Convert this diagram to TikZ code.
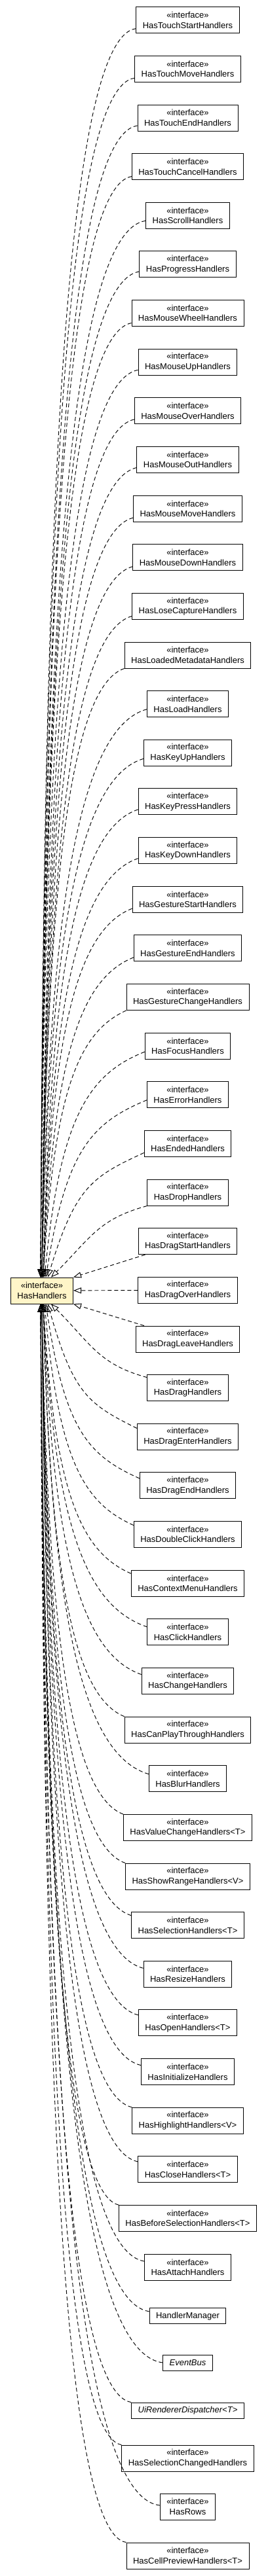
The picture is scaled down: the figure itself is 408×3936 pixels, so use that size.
\documentclass[tikz,border=0pt]{standalone}
\usepackage{fontspec}
\setmainfont{Liberation Sans}
\usetikzlibrary{arrows.meta,calc}

\definecolor{hubfill}{RGB}{255,245,200}
\newcommand{\ifacetag}{«interface»}

\tikzset{every picture/.style={line width=0.75pt}}
\tikzset{
  iface/.style={draw, line width=0.9pt, align=center, inner xsep=10pt, inner ysep=2pt,
    minimum height=40pt, font=\fontsize{13}{15.5}\selectfont},
  plainbox/.style={draw, line width=0.9pt, inner xsep=10pt, inner ysep=2pt,
    minimum height=24pt, font=\fontsize{13}{15.5}\selectfont},
  hub/.style={iface, fill=hubfill},
  realize/.style={line width=0.95pt, dash pattern=on 6pt off 4pt,
    -{Triangle[open, length=12pt, width=9pt]}}
}

\begin{document}
\begin{tikzpicture}[x=1pt,y=1pt,yscale=-1,xscale=1]
\useasboundingbox (0,0) rectangle (408,3936);

% Hub Node
\node [hub] (handlers) at (64,1972) {\ifacetag\\HasHandlers};

% Interface Nodes, upper column
\node [iface] (touchStart) at (286.5,30.7) {\ifacetag\\HasTouchStartHandlers};
\node [iface] (touchMove) at (286.5,105.3) {\ifacetag\\HasTouchMoveHandlers};
\node [iface] (touchEnd) at (286.5,180) {\ifacetag\\HasTouchEndHandlers};
\node [iface] (touchCancel) at (286.5,254.6) {\ifacetag\\HasTouchCancelHandlers};
\node [iface] (scroll) at (286.5,329.3) {\ifacetag\\HasScrollHandlers};
\node [iface] (progress) at (286.5,403.9) {\ifacetag\\HasProgressHandlers};
\node [iface] (mouseWheel) at (286.5,478.5) {\ifacetag\\HasMouseWheelHandlers};
\node [iface] (mouseUp) at (286.5,553.2) {\ifacetag\\HasMouseUpHandlers};
\node [iface] (mouseOver) at (286.5,627.8) {\ifacetag\\HasMouseOverHandlers};
\node [iface] (mouseOut) at (286.5,702.5) {\ifacetag\\HasMouseOutHandlers};
\node [iface] (mouseMove) at (286.5,777.1) {\ifacetag\\HasMouseMoveHandlers};
\node [iface] (mouseDown) at (286.5,851.7) {\ifacetag\\HasMouseDownHandlers};
\node [iface] (loseCapture) at (286.5,926.4) {\ifacetag\\HasLoseCaptureHandlers};
\node [iface] (loadedMeta) at (286.5,1001) {\ifacetag\\HasLoadedMetadataHandlers};
\node [iface] (load) at (286.5,1075.7) {\ifacetag\\HasLoadHandlers};
\node [iface] (keyUp) at (286.5,1150.3) {\ifacetag\\HasKeyUpHandlers};
\node [iface] (keyPress) at (286.5,1224.9) {\ifacetag\\HasKeyPressHandlers};
\node [iface] (keyDown) at (286.5,1299.6) {\ifacetag\\HasKeyDownHandlers};
\node [iface] (gestStart) at (286.5,1374.2) {\ifacetag\\HasGestureStartHandlers};
\node [iface] (gestEnd) at (286.5,1448.9) {\ifacetag\\HasGestureEndHandlers};
\node [iface] (gestChange) at (286.5,1523.5) {\ifacetag\\HasGestureChangeHandlers};
\node [iface] (focus) at (286.5,1598.1) {\ifacetag\\HasFocusHandlers};
\node [iface] (error) at (286.5,1672.8) {\ifacetag\\HasErrorHandlers};
\node [iface] (ended) at (286.5,1747.4) {\ifacetag\\HasEndedHandlers};
\node [iface] (drop) at (286.5,1822.1) {\ifacetag\\HasDropHandlers};
\node [iface] (dragStart) at (286.5,1896.7) {\ifacetag\\HasDragStartHandlers};
\node [iface] (dragOver) at (286.5,1971.3) {\ifacetag\\HasDragOverHandlers};
% Interface Nodes, lower column
\node [iface] (dragLeave) at (286.5,2046) {\ifacetag\\HasDragLeaveHandlers};
\node [iface] (drag) at (286.5,2120.6) {\ifacetag\\HasDragHandlers};
\node [iface] (dragEnter) at (286.5,2195.3) {\ifacetag\\HasDragEnterHandlers};
\node [iface] (dragEnd) at (286.5,2269.9) {\ifacetag\\HasDragEndHandlers};
\node [iface] (dblClick) at (286.5,2344.5) {\ifacetag\\HasDoubleClickHandlers};
\node [iface] (ctxMenu) at (286.5,2419.2) {\ifacetag\\HasContextMenuHandlers};
\node [iface] (click) at (286.5,2493.8) {\ifacetag\\HasClickHandlers};
\node [iface] (change) at (286.5,2568.5) {\ifacetag\\HasChangeHandlers};
\node [iface] (canPlay) at (286.5,2643.1) {\ifacetag\\HasCanPlayThroughHandlers};
\node [iface] (blur) at (286.5,2717.7) {\ifacetag\\HasBlurHandlers};
\node [iface] (valueChange) at (286.5,2792.4) {\ifacetag\\HasValueChangeHandlers<T>};
\node [iface] (showRange) at (286.5,2867) {\ifacetag\\HasShowRangeHandlers<V>};
\node [iface] (selection) at (286.5,2941.7) {\ifacetag\\HasSelectionHandlers<T>};
\node [iface] (resize) at (286.5,3016.3) {\ifacetag\\HasResizeHandlers};
\node [iface] (open) at (286.5,3090.9) {\ifacetag\\HasOpenHandlers<T>};
\node [iface] (initialize) at (286.5,3165.6) {\ifacetag\\HasInitializeHandlers};
\node [iface] (highlight) at (286.5,3240.2) {\ifacetag\\HasHighlightHandlers<V>};
\node [iface] (close) at (286.5,3314.9) {\ifacetag\\HasCloseHandlers<T>};
\node [iface] (beforeSel) at (286.5,3389.5) {\ifacetag\\HasBeforeSelectionHandlers<T>};
\node [iface] (attach) at (286.5,3464.1) {\ifacetag\\HasAttachHandlers};
% Class Nodes
\node [plainbox] (manager) at (286.5,3538.8) {HandlerManager};
\node [plainbox, font=\fontsize{13}{15.5}\selectfont\itshape] (eventBus) at (286.5,3610) {EventBus};
\node [plainbox, font=\fontsize{13}{15.5}\selectfont\itshape] (dispatcher) at (286.5,3683) {UiRendererDispatcher<T>};
\node [iface] (selChanged) at (286.5,3756) {\ifacetag\\HasSelectionChangedHandlers};
\node [iface] (rows) at (286.5,3830) {\ifacetag\\HasRows};
\node [iface] (cellPreview) at (286.5,3905) {\ifacetag\\HasCellPreviewHandlers<T>};

% Curve Lines, coming down onto the hub
\draw [realize] ($(touchStart.west)+(0,13)$) .. controls +(-116,15) and +(4,-1049) .. ($(handlers.north)+(-2,0)$);
\draw [realize] ($(touchMove.west)+(0,14)$) .. controls +(-113,16) and +(4,-1021) .. ($(handlers.north)+(-2,0)$);
\draw [realize] ($(touchEnd.west)+(0,12)$) .. controls +(-114,17) and +(5,-994) .. ($(handlers.north)+(-2,0)$);
\draw [realize] ($(touchCancel.west)+(0,15)$) .. controls +(-106,18) and +(5,-964) .. ($(handlers.north)+(-2,0)$);
\draw [realize] ($(scroll.west)+(0,8)$) .. controls +(-122,18) and +(5,-937) .. ($(handlers.north)+(-2,0)$);
\draw [realize] ($(progress.west)+(0,11)$) .. controls +(-112,19) and +(5,-904) .. ($(handlers.north)+(-2,0)$);
\draw [realize] ($(mouseWheel.west)+(0,15)$) .. controls +(-101,20) and +(5,-870) .. ($(handlers.north)+(-2,0)$);
\draw [realize] ($(mouseUp.west)+(0,12)$) .. controls +(-107,21) and +(6,-838) .. ($(handlers.north)+(-2,0)$);
\draw [realize] ($(mouseOver.west)+(0,13)$) .. controls +(-100,22) and +(6,-802) .. (handlers.north);
\draw [realize] ($(mouseOut.west)+(0,12)$) .. controls +(-101,23) and +(6,-767) .. (handlers.north);
\draw [realize] ($(mouseMove.west)+(0,14)$) .. controls +(-95,24) and +(7,-729) .. (handlers.north);
\draw [realize] ($(mouseDown.west)+(0,14)$) .. controls +(-93,25) and +(7,-691) .. (handlers.north);
\draw [realize] ($(loseCapture.west)+(0,15)$) .. controls +(-91,26) and +(8,-651) .. (handlers.north);
\draw [realize] (loadedMeta.south west) .. controls +(-82,27) and +(7,-607) .. (handlers.north);
\draw [realize] ($(load.west)+(0,8)$) .. controls +(-102,28) and +(10,-572) .. (handlers.north);
\draw [realize] ($(keyUp.west)+(0,9)$) .. controls +(-97,28) and +(11,-529) .. (handlers.north);
\draw [realize] ($(keyPress.west)+(0,12)$) .. controls +(-89,29) and +(11,-483) .. ($(handlers.north)+(2,0)$);
\draw [realize] ($(keyDown.west)+(0,12)$) .. controls +(-87,30) and +(12,-437) .. ($(handlers.north)+(2,0)$);
\draw [realize] ($(gestStart.west)+(0,14)$) .. controls +(-80,31) and +(13,-390) .. ($(handlers.north)+(2,0)$);
\draw [realize] ($(gestEnd.west)+(0,14)$) .. controls +(-80,32) and +(16,-342) .. ($(handlers.north)+(2,0)$);
\draw [realize] (gestChange.south west) .. controls +(-72,33) and +(17,-288) .. ($(handlers.north)+(2,0)$);
\draw [realize] ($(focus.west)+(0,9)$) .. controls +(-85,34) and +(24,-246) .. ($(handlers.north)+(4,0)$);
\draw [realize] ($(error.west)+(0,8)$) .. controls +(-84,35) and +(31,-195) .. ($(handlers.north)+(6,0)$);
\draw [realize] ($(ended.west)+(0,14)$) .. controls +(-78,36) and +(42,-139) .. ($(handlers.north)+(9,0)$);
\draw [realize] (drop.south west) .. controls +(-74,20) and +(60,-60) .. ($(handlers.north)+(14,0)$);

% Straight Lines, onto the right side of the hub
\draw [realize] (dragStart) -- (handlers.north east);
\draw [realize] (dragOver) -- (handlers);
\draw [realize] (dragLeave) -- (handlers.south east);

% Curve Lines, coming up onto the hub
\draw [realize] ($(drag.west)+(0,-16)$) .. controls +(-74,-20) and +(60,60) .. ($(handlers.south)+(14,0)$);
\draw [realize] ($(dragEnter.west)+(0,-13)$) .. controls +(-72,-36) and +(39,139) .. ($(handlers.south)+(9,0)$);
\draw [realize] ($(dragEnd.west)+(0,-11)$) .. controls +(-78,-35) and +(29,193) .. ($(handlers.south)+(6,0)$);
\draw [realize] ($(dblClick.west)+(0,-14)$) .. controls +(-75,-34) and +(22,242) .. ($(handlers.south)+(4,0)$);
\draw [realize] ($(ctxMenu.west)+(0,-15)$) .. controls +(-76,-33) and +(18,291) .. ($(handlers.south)+(2,0)$);
\draw [realize] ($(click.west)+(0,-8)$) .. controls +(-92,-32) and +(18,345) .. ($(handlers.south)+(2,0)$);
\draw [realize] ($(change.west)+(0,-10)$) .. controls +(-88,-31) and +(15,391) .. ($(handlers.south)+(2,0)$);
\draw [realize] (canPlay.north west) .. controls +(-74,-30) and +(11,432) .. ($(handlers.south)+(2,0)$);
\draw [realize] ($(blur.west)+(0,-7)$) .. controls +(-99,-29) and +(12,485) .. ($(handlers.south)+(2,0)$);
\draw [realize] (valueChange.north west) .. controls +(-77,-29) and +(9,521) .. (handlers.south);
\draw [realize] (showRange.north west) .. controls +(-81,-28) and +(8,564) .. (handlers.south);
\draw [realize] ($(selection.west)+(0,-15)$) .. controls +(-88,-27) and +(8,609) .. (handlers.south);
\draw [realize] ($(resize.west)+(0,-9)$) .. controls +(-102,-26) and +(8,653) .. (handlers.south);
\draw [realize] ($(open.west)+(0,-12)$) .. controls +(-99,-25) and +(7,691) .. (handlers.south);
\draw [realize] ($(initialize.west)+(0,-10)$) .. controls +(-104,-24) and +(7,731) .. (handlers.south);
\draw [realize] (highlight.north west) .. controls +(-96,-23) and +(6,763) .. (handlers.south);
\draw [realize] ($(close.west)+(0,-12)$) .. controls +(-104,-22) and +(6,802) .. (handlers.south);
\draw [realize] (beforeSel.north west) .. controls +(-86,-21) and +(5,833) .. ($(handlers.south)+(-2,0)$);
\draw [realize] ($(attach.west)+(0,-9)$) .. controls +(-116,-20) and +(6,872) .. ($(handlers.south)+(-2,0)$);
\draw [realize] ($(manager.west)+(0,-7)$) .. controls +(-123,-19) and +(6,906) .. ($(handlers.south)+(-2,0)$);
\draw [realize] (eventBus.west) .. controls +(-141,-18) and +(6,938) .. ($(handlers.south)+(-2,0)$);
\draw [realize] (dispatcher.north west) .. controls +(-106,-18) and +(5,962) .. ($(handlers.south)+(-2,0)$);
\draw [realize] (selChanged.north west) .. controls +(-96,-17) and +(4,987) .. ($(handlers.south)+(-2,0)$);
\draw [realize] ($(rows.west)+(0,-2)$) .. controls +(-144,-16) and +(5,1022) .. ($(handlers.south)+(-2,0)$);
\draw [realize] (cellPreview.north west) .. controls +(-105,-15) and +(4,1043) .. ($(handlers.south)+(-2,0)$);

\end{tikzpicture}
\end{document}
